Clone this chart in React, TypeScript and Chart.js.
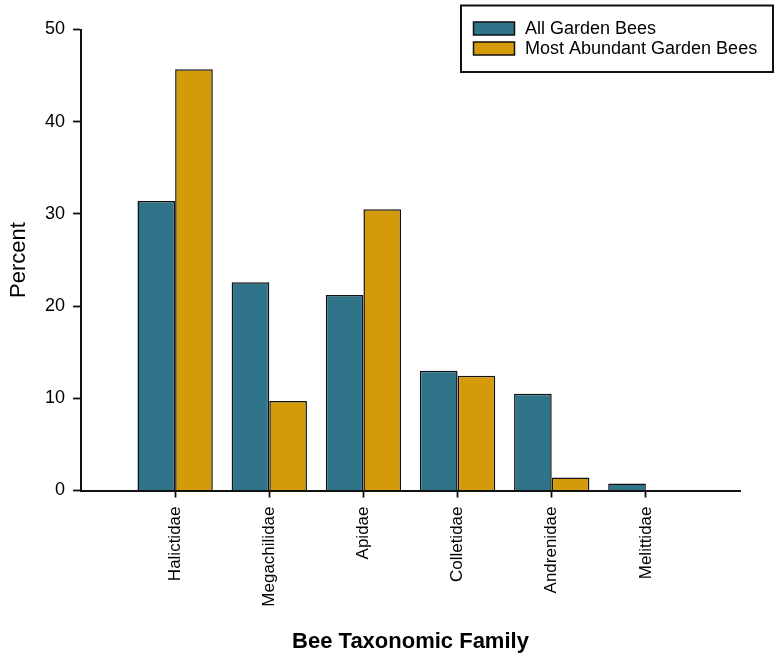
import React, { useEffect, useRef } from "react";
import { Chart, registerables } from "chart.js";

Chart.register(...registerables);

const families = ["Halictidae", "Megachilidae", "Apidae", "Colletidae", "Andrenidae", "Melittidae"];
const allGardenBees = [31.4, 22.6, 21.2, 13.0, 10.5, 0.75];
const mostAbundantBees = [45.7, 9.7, 30.5, 12.45, 1.4, 0];
const seriesNames = ["All Garden Bees", "Most Abundant Garden Bees"];
const yTicks = [0, 10, 20, 30, 40, 50];

const TEAL = "#2F7488";
const GOLD = "#D39A0A";
const FONT = "'Liberation Sans', Arial, sans-serif";

const legendPlugin = {
  id: "boxLegend",
  afterDraw(chart: any) {
    const ctx = chart.ctx;
    ctx.save();
    ctx.strokeStyle = "#111";
    ctx.lineWidth = 2;
    ctx.strokeRect(461, 5.5, 312, 66.5);
    const colors = [TEAL, GOLD];
    const ys = [22, 42];
    ctx.font = `18px ${FONT}`;
    ctx.textBaseline = "middle";
    ctx.textAlign = "left";
    seriesNames.forEach((name, i) => {
      ctx.fillStyle = colors[i];
      ctx.fillRect(473.5, ys[i], 41, 13);
      ctx.lineWidth = 1.5;
      ctx.strokeStyle = "#111";
      ctx.strokeRect(473.5, ys[i], 41, 13);
      ctx.fillStyle = "#000";
      ctx.fillText(name, 525, ys[i] + 7);
    });
    ctx.restore();
  },
};

export default function App() {
  const ref = useRef<HTMLCanvasElement | null>(null);

  useEffect(() => {
    if (!ref.current) return;
    const labels = ["", ...families, ""];
    const pad = (arr: number[]) => [null, ...arr, null];
    const chart = new Chart(ref.current, {
      type: "bar",
      data: {
        labels,
        datasets: [
          {
            label: seriesNames[0],
            data: pad(allGardenBees) as any,
            backgroundColor: TEAL,
            borderColor: "#111",
            borderWidth: 1.5,
            categoryPercentage: 0.8,
            barPercentage: 1,
          },
          {
            label: seriesNames[1],
            data: pad(mostAbundantBees) as any,
            backgroundColor: GOLD,
            borderColor: "#111",
            borderWidth: 1.5,
            categoryPercentage: 0.8,
            barPercentage: 1,
          },
        ],
      },
      options: {
        animation: false,
        responsive: false,
        layout: { padding: { left: 0, right: 40, top: 29.5, bottom: 0 } },
        plugins: {
          legend: { display: false },
          tooltip: { enabled: false },
        },
        scales: {
          x: {
            type: "category",
            offset: false,
            grid: {
              offset: false,
              drawOnChartArea: false,
              drawTicks: true,
              tickLength: 7,
              tickWidth: 1.8,
              tickColor: (c: any) =>
                c.index === 0 || c.index === labels.length - 1 ? "rgba(0,0,0,0)" : "#111",
            },
            border: { display: true, color: "#111", width: 2 },
            ticks: {
              autoSkip: false,
              minRotation: 90,
              maxRotation: 90,
              padding: 9,
              color: "#000",
              font: { family: FONT, size: 17 },
            },
            title: {
              display: true,
              text: "Bee Taxonomic Family",
              color: "#000",
              font: { family: FONT, size: 22, weight: "bold" },
              padding: { top: 0, bottom: 15 },
            },
            afterFit: (s: any) => {
              s.height = 179.5;
            },
          },
          y: {
            min: 0,
            max: 50,
            afterBuildTicks: (s: any) => {
              s.ticks = yTicks.map((v) => ({ value: v }));
            },
            grid: {
              drawOnChartArea: false,
              drawTicks: true,
              tickLength: 8,
              tickWidth: 1.8,
              tickColor: "#111",
            },
            border: { display: true, color: "#111", width: 2 },
            ticks: {
              padding: 8,
              color: "#000",
              font: { family: FONT, size: 18 },
            },
            title: {
              display: true,
              text: "Percent",
              color: "#000",
              font: { family: FONT, size: 22 },
              padding: { top: 6, bottom: 0 },
            },
            afterFit: (s: any) => {
              s.width = 81;
            },
          },
        },
      },
      plugins: [legendPlugin],
    });
    return () => chart.destroy();
  }, []);

  return (
    <div style={{ position: "fixed", left: 0, top: 0, width: 780, height: 670, background: "#fff" }}>
      <canvas ref={ref} width={780} height={670} />
    </div>
  );
}
